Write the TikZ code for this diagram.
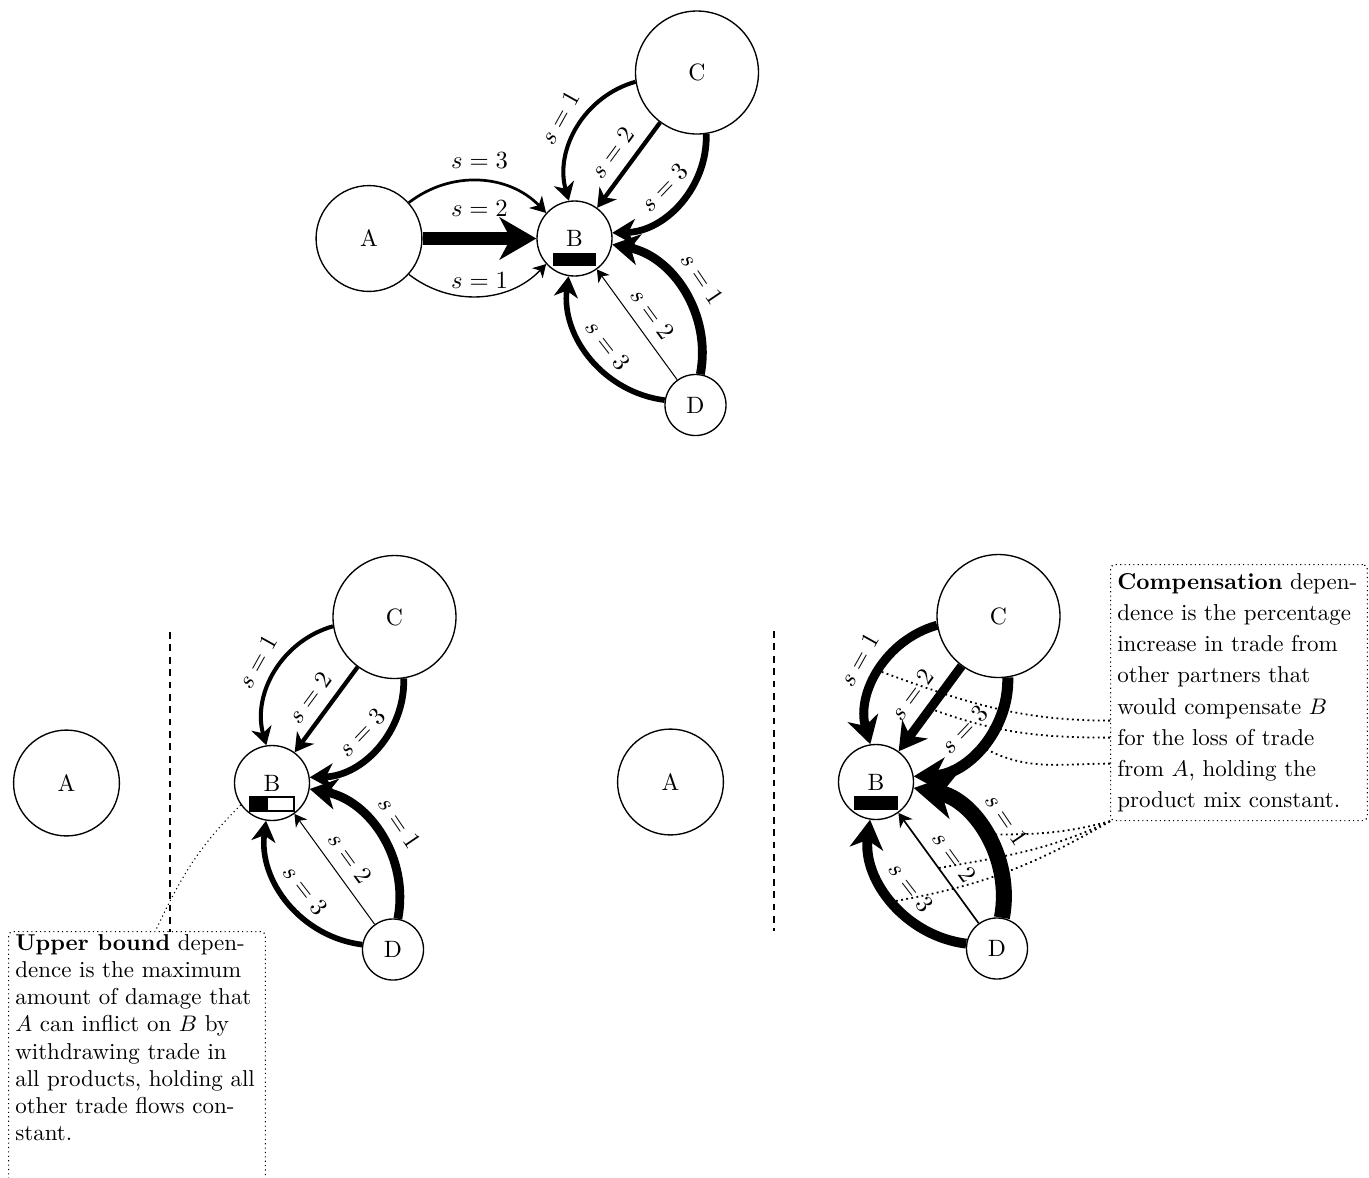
\documentclass[tikz,border=0pt]{standalone}
\usetikzlibrary{arrows.meta,calc,backgrounds}
\begin{document}
\begin{tikzpicture}[x=0.444pt, y=-0.444pt,
  nd/.style={circle, draw, line width=0.6pt, inner sep=0pt, font=\fontsize{10.5}{12}\selectfont},
  ndA/.style={nd, minimum size=47pt},
  ndB/.style={nd, minimum size=33.3pt},
  ndC/.style={nd, minimum size=54.6pt},
  ndD/.style={nd, minimum size=27.1pt},
  flow/.style={-{Stealth[length=4.5pt 1.9, width'=0pt 1.15, inset'=0pt 0.3]}},
  lbl/.style={font=\fontsize{10.5}{12}\selectfont, inner sep=2pt},
  slbl/.style={lbl, sloped, above=2.6pt},
  barfull/.style={rectangle, fill=black, minimum width=19.5pt, minimum height=6.2pt, inner sep=0pt},
  barhalf/.style={rectangle, draw, line width=0.6pt, fill=white, minimum width=19.5pt, minimum height=6.2pt, inner sep=0pt},
  divider/.style={line width=0.5pt, dash pattern=on 3pt off 2.5pt},
  dotbox/.style={draw, line width=0.5pt, dash pattern=on 0.5pt off 1.45pt, rounded corners=2pt,
                 inner xsep=3pt, inner ysep=1.5pt, anchor=north west},
  pointer/.style={line width=0.8pt, dash pattern=on 0.8pt off 1.5pt},
  finepointer/.style={line width=0.5pt, dash pattern=on 0.5pt off 1.45pt}
]
\useasboundingbox (0,0) rectangle (1369,1177);
\clip (0,0) rectangle (1369,1177);

% ---------- full network: trade of A, C and D into B ----------
\begin{scope}[shift={(574.5,238.5)}]
  \node[ndA] (tA) at (-205.5,0) {A};
  \node[ndB] (tB) at (0,0) {B};
  \node[ndC] (tC) at (122.5,-166) {C};
  \node[ndD] (tD) at (121,166.5) {D};
  \node[barfull] (tBar) at (0,21) {};
  \draw[flow, line width=1.2pt] (tA) to[bend left=42] node[lbl, above=3pt] (tA3) {$s=3$} (tB);
  \draw[flow, line width=6.2pt] (tA) -- node[lbl, above=4.5pt] (tA2) {$s=2$} (tB);
  \draw[flow, line width=0.6pt] (tA) to[bend right=42] node[lbl, above=1pt] (tA1) {$s=1$} (tB);
  \draw[flow, line width=1.8pt] (tC) to[bend right=45] node[slbl] (tC1) {$s=1$} (tB);
  \draw[flow, line width=1.9pt] (tC) -- node[slbl] (tC2) {$s=2$} (tB);
  \draw[flow, line width=3pt] (tC) to[bend left=45] node[slbl] (tC3) {$s=3$} (tB);
  \draw[flow, line width=3.9pt] (tD) to[bend right=45] node[slbl] (tD1) {$s=1$} (tB);
  \draw[flow, line width=0.45pt] (tD) -- node[slbl] (tD2) {$s=2$} (tB);
  \draw[flow, line width=2.5pt] (tD) to[bend left=45] node[slbl] (tD3) {$s=3$} (tB);
\end{scope}

% ---------- upper bound: A cut off, other flows unchanged ----------
\begin{scope}[shift={(272,783)}]
  \node[ndA] (lA) at (-205.5,0) {A};
  \node[ndB] (lB) at (0,0) {B};
  \node[ndC] (lC) at (122.5,-166) {C};
  \node[ndD] (lD) at (121,166.5) {D};
  \node[barhalf] (lBar) at (0,21) {};
  \fill ([shift={(0.3pt,-0.3pt)}]lBar.north west) rectangle ($(lBar.south west)!0.42!(lBar.south east)$);
  \draw[divider] (-102,-151) -- (-102,149);
  \draw[flow, line width=1.8pt] (lC) to[bend right=45] node[slbl] (lC1) {$s=1$} (lB);
  \draw[flow, line width=1.9pt] (lC) -- node[slbl] (lC2) {$s=2$} (lB);
  \draw[flow, line width=3pt] (lC) to[bend left=45] node[slbl] (lC3) {$s=3$} (lB);
  \draw[flow, line width=3.9pt] (lD) to[bend right=45] node[slbl] (lD1) {$s=1$} (lB);
  \draw[flow, line width=0.45pt] (lD) -- node[slbl] (lD2) {$s=2$} (lB);
  \draw[flow, line width=2.5pt] (lD) to[bend left=45] node[slbl] (lD3) {$s=3$} (lB);
\end{scope}

\node[dotbox] (ubox) at (8,931) {\parbox[c][113pt][t]{108pt}{\fontsize{10.2}{12}\selectfont\raggedright
  \textbf{Upper bound} depen-\\
  dence is the maximum\\
  amount of damage that\\
  $A$ can inflict on $B$ by\\
  withdrawing trade in\\
  all products, holding all\\
  other trade flows con-\\
  stant.}};
\draw[finepointer] (lB.215) to[out=225, in=65] ($(ubox.north)+(18.5,0)$);

% ---------- compensation: other partners scale up their flows ----------
\begin{scope}[shift={(876,782)}]
  \node[ndA] (rA) at (-205.5,0) {A};
  \node[ndB] (rB) at (0,0) {B};
  \node[ndC] (rC) at (122.5,-166) {C};
  \node[ndD] (rD) at (121,166.5) {D};
  \node[barfull] (rBar) at (0,21) {};
  \draw[divider] (-102,-151) -- (-102,149);
  \draw[flow, line width=4pt] (rC) to[bend right=45] node[slbl] (rC1) {$s=1$} coordinate[pos=0.5] (mC1) (rB);
  \draw[flow, line width=4pt] (rC) -- node[slbl] (rC2) {$s=2$} coordinate[pos=0.5] (mC2) (rB);
  \draw[flow, line width=4.9pt] (rC) to[bend left=45] node[slbl] (rC3) {$s=3$} coordinate[pos=0.5] (mC3) (rB);
  \draw[flow, line width=7.1pt] (rD) to[bend right=45] node[slbl] (rD1) {$s=1$} coordinate[pos=0.5] (mD1) (rB);
  \draw[flow, line width=0.75pt] (rD) -- node[slbl] (rD2) {$s=2$} coordinate[pos=0.5] (mD2) (rB);
  \draw[flow, line width=4.4pt] (rD) to[bend left=45] node[slbl] (rD3) {$s=3$} coordinate[pos=0.5] (mD3) (rB);
\end{scope}

\node[dotbox] (cbox) at (1110,564) {\parbox[c][110.7pt][t]{108pt}{\fontsize{10.2}{13.8}\selectfont\raggedright
  \strut\textbf{Compensation} depen-\\
  dence is the percentage\\
  increase in trade from\\
  other partners that\\
  would compensate $B$\\
  for the loss of trade\\
  from $A$, holding the\\
  product mix constant.}};

\begin{scope}[on background layer]
  \draw[pointer] ($(cbox.west)+(0,28)$) to[out=180, in=-20] (mC1);
  \draw[pointer] ($(cbox.west)+(0,45)$) to[out=180, in=-20] (mC2);
  \draw[pointer] ($(cbox.west)+(0,71)$) to[out=180, in=-30] (mC3);
  \draw[pointer] (cbox.south west) to[out=195, in=0] (mD1);
  \draw[pointer] (cbox.south west) to[out=205, in=10] (mD2);
  \draw[pointer] (cbox.south west) to[out=210, in=10] (mD3);
\end{scope}
\end{tikzpicture}
\end{document}
